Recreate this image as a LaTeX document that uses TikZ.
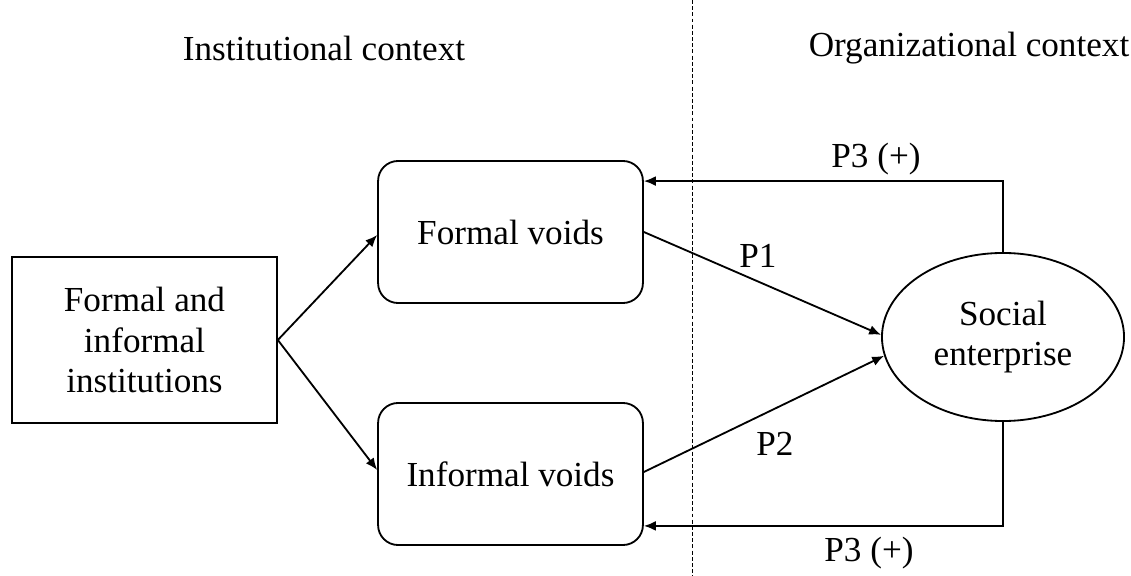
\documentclass[tikz,border=0pt]{standalone}
\usepackage{fontspec}
\setmainfont{Liberation Serif}
\usetikzlibrary{shapes.geometric, arrows.meta}

\begin{document}
\begin{tikzpicture}[
    x=0.025cm, y=-0.025cm,
    every node/.style={font=\fontsize{25}{28.5}\selectfont},
    source/.style={draw, line width=1.3pt, minimum width=6.62cm, minimum height=4.15cm, align=center},
    void/.style={draw, line width=1.3pt, rounded corners=0.5cm, minimum width=6.62cm, minimum height=3.55cm},
    firm/.style={ellipse, draw, line width=1.3pt, minimum width=6.05cm, minimum height=4.2cm, inner sep=0pt, align=center},
    link/.style={-{Latex[length=8.5pt, width=7pt]}, line width=1.3pt},
    divider/.style={line width=0.6pt, dash pattern=on 2.8pt off 1.6pt}
]
    \useasboundingbox (0,0) rectangle (1131,576);

    % Headers
    \node (inst) at (324,48) {Institutional context};
    \node (org) at (969,48) {Organizational context};
    \draw[divider] (692,0) -- (692,576);

    % Boxes
    \node[source] (inst box) at (144.5,340) {Formal and\\informal\\institutions};
    \node[void] (fv) at (510.5,232) {Formal voids};
    \node[void] (iv) at (510.5,474) {Informal voids};
    \node[firm] (se) at (1003,337) {Social\\enterprise};

    % Arrows
    \draw[link] (inst box.east) -- ([yshift=-0.075cm]fv.west);
    \draw[link] (inst box.east) -- ([yshift=0.1cm]iv.west);
    \draw[link] (fv.east) -- (se.179);
    \draw[link] ([yshift=0.05cm]iv.east) -- (se.189);
    \draw[link] (se.north) |- ([yshift=-0.525cm]fv.north east);
    \draw[link] (se.south) |- ([yshift=0.5cm]iv.south east);

    % Labels
    \node (p1) at (758,256) {P1};
    \node (p2) at (775,444) {P2};
    \node (p3a) at (876,159) {P3 (+)};
    \node (p3b) at (869,553) {P3 (+)};
\end{tikzpicture}
\end{document}
